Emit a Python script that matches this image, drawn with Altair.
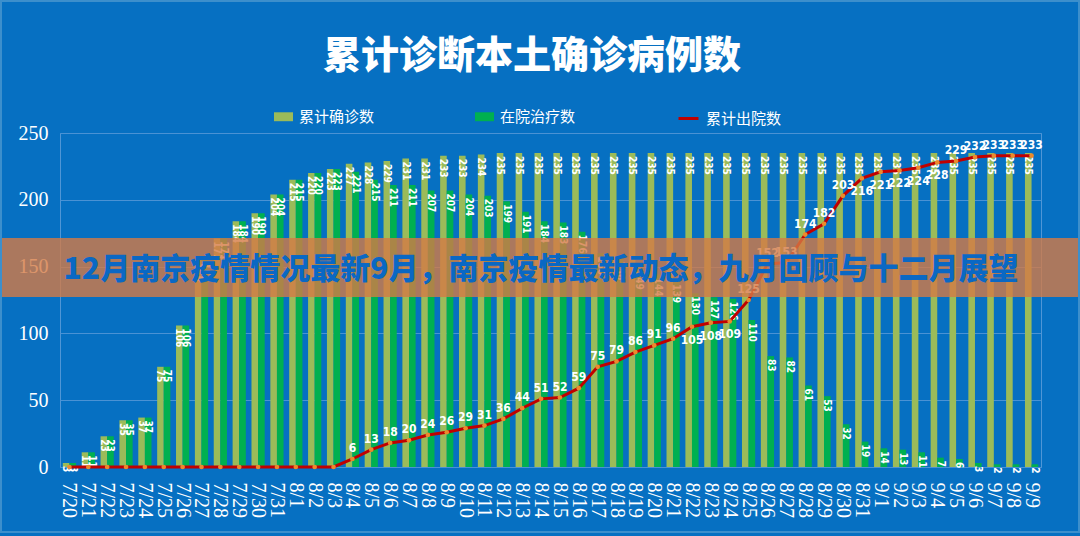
import altair as alt
import pandas as pd

dates = ["7/20", "7/21", "7/22", "7/23", "7/24", "7/25", "7/26", "7/27", "7/28", "7/29", "7/30", "7/31",
         "8/1", "8/2", "8/3", "8/4", "8/5", "8/6", "8/7", "8/8", "8/9", "8/10", "8/11", "8/12", "8/13",
         "8/14", "8/15", "8/16", "8/17", "8/18", "8/19", "8/20", "8/21", "8/22", "8/23", "8/24", "8/25",
         "8/26", "8/27", "8/28", "8/29", "8/30", "8/31", "9/1", "9/2", "9/3", "9/4", "9/5", "9/6", "9/7",
         "9/8", "9/9"]

confirmed = [3, 11, 23, 35, 37, 75, 106, 155, 171, 184, 190, 204, 215, 220, 223, 227, 228, 229, 231, 231,
             233, 233, 234, 235, 235, 235, 235, 235, 235, 235, 235, 235, 235, 235, 235, 235, 235, 235, 235,
             235, 235, 235, 235, 235, 235, 235, 235, 235, 235, 235, 235, 235]

in_hospital = [3, 11, 23, 35, 37, 75, 106, 155, 171, 184, 190, 204, 215, 220, 223, 221, 215, 211, 211, 207,
               207, 204, 203, 199, 191, 184, 183, 176, 160, 156, 149, 144, 139, 130, 127, 126, 110, 83, 82,
               61, 53, 32, 19, 14, 13, 11, 7, 6, 3, 2, 2, 2]

discharged = [0, 0, 0, 0, 0, 0, 0, 0, 0, 0, 0, 0, 0, 0, 0, 6, 13, 18, 20, 24, 26, 29, 31, 36, 44, 51, 52,
              59, 75, 79, 86, 91, 96, 105, 108, 109, 125, 152, 153, 174, 182, 203, 216, 221, 222, 224, 228,
              229, 232, 233, 233, 233]

series_names = ["累计确诊数", "在院治疗数", "累计出院数"]
title_text = "累计诊断本土确诊病例数"
banner_text = "12月南京疫情情况最新9月，南京疫情最新动态，九月回顾与十二月展望"
below_label_dates = ["8/22", "8/23", "8/24", "8/31", "9/1", "9/2", "9/3", "9/4"]

bars_df = pd.DataFrame({
    "date": dates * 2,
    "series": [series_names[0]] * len(dates) + [series_names[1]] * len(dates),
    "value": confirmed + in_hospital,
})
line_df = pd.DataFrame({"date": dates, "series": series_names[2], "value": discharged})
line_df["below"] = line_df["date"].isin(below_label_dates)

W, H = 981, 334
BG = "#0670c2"
CJK = "Noto Sans CJK SC"
SERIF = "Liberation Serif"
NARROW = "Liberation Sans Narrow, DejaVu Sans Condensed, sans-serif"

xscale = alt.Scale(domain=dates, paddingInner=0.3, paddingOuter=0.15)
yscale = alt.Scale(domain=[0, 250], nice=False)

x = alt.X("date:N", sort=dates, scale=xscale,
          axis=alt.Axis(title=None, labelAngle=90, labelFont=SERIF, labelFontSize=20,
                        labelColor="white", labelPadding=15, ticks=False, domain=False,
                        grid=False, labelAlign="left", labelBaseline="middle", labelOverlap=False))
y = alt.Y("value:Q", scale=yscale,
          axis=alt.Axis(title=None, values=[0, 50, 100, 150, 200, 250], labelFont=SERIF,
                        labelFontSize=20, labelColor="white", ticks=False, domain=False,
                        labelPadding=12, gridColor="#4a92d4", gridWidth=1))
xoff = alt.XOffset("series:N", sort=series_names[:2], scale=alt.Scale(domain=series_names[:2]))

rect_path = "M-1,-0.47L1,-0.47L1,0.47L-1,0.47Z"

bars = alt.Chart(bars_df).mark_bar().encode(
    x=x, y=y, xOffset=xoff,
    color=alt.Color("series:N",
                    scale=alt.Scale(domain=series_names[:2], range=["#9bbb59", "#00b050"]),
                    legend=alt.Legend(title=None, orient="none", legendX=214, legendY=-26,
                                      direction="horizontal", columnPadding=100,
                                      labelFont=CJK, labelFontSize=15, labelColor="white",
                                      symbolType=rect_path, symbolSize=361, symbolStrokeWidth=0,
                                      symbolOpacity=1, labelOffset=6)),
)

bar_labels = alt.Chart(bars_df).mark_text(
    angle=90, align="left", baseline="middle", dx=3, font=NARROW, fontSize=10,
    fontWeight="bold", color="white",
).encode(x=x, y=y, xOffset=xoff, text="value:Q")

line = alt.Chart(line_df).mark_line(strokeWidth=3).encode(
    x=x, y=y,
    color=alt.Color("series:N", scale=alt.Scale(domain=[series_names[2]], range=["#c00000"]),
                    legend=alt.Legend(title=None, orient="none", legendX=617, legendY=-26,
                                      labelFont=CJK, labelFontSize=15, labelColor="white",
                                      symbolType="stroke", symbolSize=400, symbolStrokeWidth=3,
                                      labelOffset=6)),
)
points = alt.Chart(line_df).mark_point(filled=True, color="#ec8a2c", size=22, opacity=1).encode(x=x, y=y)

line_labels_above = alt.Chart(line_df).transform_filter(
    "datum.value > 0 && !datum.below"
).mark_text(dy=-11, font=NARROW, fontSize=12, fontWeight="bold", color="white").encode(
    x=x, y=y, text="value:Q")
line_labels_below = alt.Chart(line_df).transform_filter(
    "datum.value > 0 && datum.below"
).mark_text(dy=13, font=NARROW, fontSize=12, fontWeight="bold", color="white").encode(
    x=x, y=y, text="value:Q")

banner_df = pd.DataFrame({"t": [banner_text]})
banner = alt.Chart(banner_df).mark_rect(color="#d57a45", opacity=0.8).encode(
    x=alt.value(-60), x2=alt.value(1020), y=alt.value(105), y2=alt.value(164))
banner_txt = alt.Chart(banner_df).mark_text(
    font=CJK, fontWeight=900, fontSize=30, color="#0a68c4").encode(
    x=alt.value(481), y=alt.value(137), text="t:N")

title_df = pd.DataFrame({"t": [title_text]})
title = alt.Chart(title_df).mark_text(
    font=CJK, fontWeight=900, fontSize=38, color="white", baseline="middle").encode(
    x=alt.value(472), y=alt.value(-76), text="t:N")

frame = alt.Chart(banner_df).mark_rect(fill=None, stroke="#3c8fcc", strokeWidth=2).encode(
    x=alt.value(-59), x2=alt.value(1019), y=alt.value(-132), y2=alt.value(399))

chart = alt.layer(
    bars, bar_labels, line, points, line_labels_above, line_labels_below, banner, banner_txt,
    title, frame
).resolve_scale(color="independent").resolve_legend(color="independent").properties(
    width=W, height=H,
    padding={"left": 60, "top": 133, "right": 39, "bottom": 69},
    autosize=alt.AutoSizeParams(type="none"),
).configure(background=BG).configure_view(stroke="#4f96d6", strokeWidth=1, fill=BG)

chart.save("out.html", embed_options={"renderer": "svg", "actions": False})
